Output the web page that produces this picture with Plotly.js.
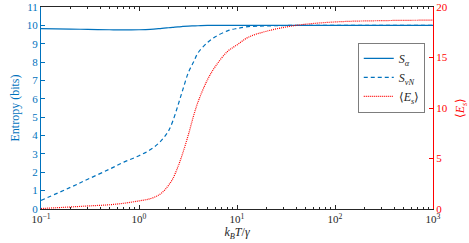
<!DOCTYPE html>
<html>
<head>
<meta charset="utf-8">
<script src="https://cdn.plot.ly/plotly-3.0.1.min.js"></script>
<style>html,body{margin:0;padding:0;background:#fff;}#chart{width:469px;height:243px;}</style>
</head>
<body>
<div id="chart"></div>
<script>
// kB T / gamma
var xT   = [0.1, 0.2, 0.3, 0.5, 0.7, 1, 1.3, 1.6, 1.8, 2, 2.2, 2.5, 2.8, 3.2, 3.6, 4, 5, 6, 8, 10, 13, 20, 40, 100, 300, 1000];
// S_alpha (bits)
var sAlpha = [9.82, 9.80, 9.78, 9.76, 9.75, 9.76, 9.78, 9.82, 9.85, 9.87, 9.89, 9.92, 9.94, 9.96, 9.97, 9.98, 10.0, 10.0, 10.0, 10.0, 10.0, 10.0, 10.0, 10.0, 10.0, 10.0];
// S_vN (bits)
var sVN = [0.47, 1.18, 1.62, 2.17, 2.55, 2.9, 3.22, 3.6, 3.9, 4.25, 4.75, 5.65, 6.5, 7.45, 8.0, 8.5, 9.07, 9.38, 9.7, 9.83, 9.93, 9.97, 10.0, 10.0, 10.0, 10.0];
// <E_s>
var eS = [0.05, 0.2, 0.3, 0.42, 0.57, 0.8, 1.02, 1.4, 1.8, 2.35, 2.95, 4.2, 5.55, 7.4, 9.2, 10.6, 12.8, 14.1, 15.6, 16.25, 17.0, 17.6, 18.18, 18.52, 18.65, 18.7];
// x tick labels
var xTickVals = [0.1, 1, 10, 100, 1000];
var xTickText = ['10<sup>−1</sup>', '10<sup>0</sup>', '10<sup>1</sup>', '10<sup>2</sup>', '10<sup>3</sup>'];

var minorVals = [];
xTickVals.slice(0, -1).forEach(function (d) { for (var m = 2; m <= 9; m++) minorVals.push(d * m); });

var blue = '#0072BD', red = '#FF0000', dark = '#262626';
var serif = 'Liberation Serif, Times New Roman, serif';

var traces = [
  {x: xT, y: sAlpha, name: '<i>S</i><sub><i>α</i></sub>', mode: 'lines',
   line: {color: blue, width: 1.2, shape: 'spline'}, yaxis: 'y'},
  {x: xT, y: sVN, name: '<i>S</i><sub><i>vN</i></sub>', mode: 'lines',
   line: {color: blue, width: 1.2, dash: '4px,3px', shape: 'spline'}, yaxis: 'y'},
  {x: xT, y: eS, name: '⟨<i>E</i><sub><i>s</i></sub>⟩', mode: 'lines',
   line: {color: red, width: 1.2, dash: '1px,1px', shape: 'spline'}, yaxis: 'y2'}
];

var layout = {
  width: 469, height: 243,
  margin: {l: 41, r: 36, t: 7, b: 34},
  paper_bgcolor: '#fff', plot_bgcolor: '#fff',
  font: {family: serif, size: 11, color: dark},
  showlegend: true,
  legend: {x: 0.98, xanchor: 'right', y: 0.82, yanchor: 'top',
           bgcolor: '#fff', bordercolor: dark, borderwidth: 0.6,
           font: {family: serif, size: 12, color: dark},
           tracegroupgap: 0, itemwidth: 30},
  xaxis: {type: 'log', range: [-1, 3], tickmode: 'array', tickvals: xTickVals, ticktext: xTickText,
          ticks: 'inside', ticklen: 4, tickcolor: dark, showline: true, linecolor: dark, linewidth: 1,
          mirror: 'ticks', showgrid: false, zeroline: false,
          tickfont: {family: serif, size: 11, color: dark},
          minor: {tickmode: 'array', tickvals: minorVals, ticks: 'inside', ticklen: 2, tickcolor: dark, showgrid: false},
          title: {text: '<i>k</i><sub><i>B</i></sub><i>T</i>/<i>γ</i>', font: {family: serif, size: 12, color: dark}, standoff: 3}},
  yaxis: {range: [0, 11], dtick: 1, ticks: 'inside', ticklen: 4, tickcolor: blue,
          showline: true, linecolor: blue, linewidth: 1, showgrid: false, zeroline: false,
          tickfont: {family: serif, size: 11, color: blue},
          title: {text: 'Entropy (bits)', font: {family: serif, size: 12, color: blue}, standoff: 4}},
  yaxis2: {range: [0, 20], dtick: 5, overlaying: 'y', side: 'right', anchor: 'x',
           ticks: 'inside', ticklen: 4, tickcolor: red,
           showline: true, linecolor: red, linewidth: 1, showgrid: false, zeroline: false,
           tickfont: {family: serif, size: 11, color: red},
           title: {text: '⟨<i>E</i><sub><i>s</i></sub>⟩', font: {family: serif, size: 12, color: red}, standoff: 13}}
};

Plotly.newPlot('chart', traces, layout, {displayModeBar: false, staticPlot: true});
</script>
</body>
</html>
